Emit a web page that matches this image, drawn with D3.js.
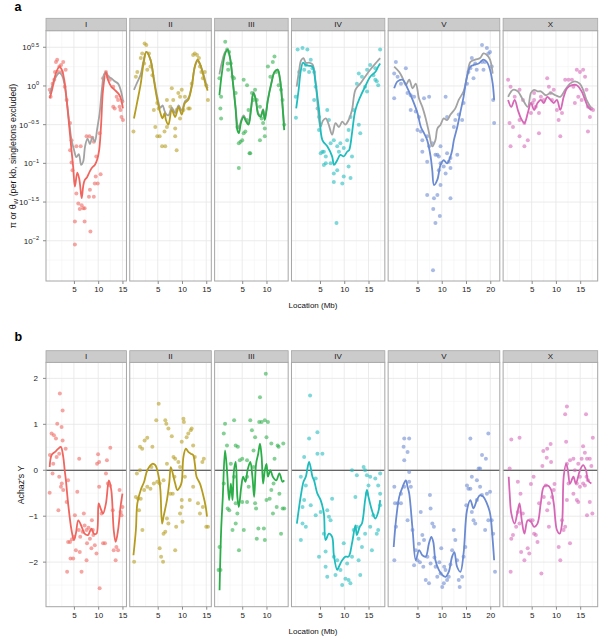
<!DOCTYPE html>
<html><head><meta charset="utf-8">
<script src="https://cdn.jsdelivr.net/npm/d3@7"></script>
<style>body{margin:0;background:#fff} svg{display:block;font-family:"Liberation Sans",Arial,Helvetica,sans-serif}</style>
</head><body><svg id="chart" width="603" height="639"></svg>
<script>
// ---------------- DATA ----------------
const chromosomes = ["I","II","III","IV","V","X"];
const chromLengthMb = [15.07,15.28,13.78,17.49,20.92,17.72];
const colors = ["#F0665F","#B59C1E","#2BAE48","#1FBCBE","#6A8AD2","#D666B6"];
const xTicks = [5,10,15,20];
const xMinorTicks = [0,2.5,7.5,12.5,17.5];
// panel a: log10 of pi / theta_W (per kb)
const aLog10Ticks = [-2,-1.5,-1,-0.5,0,0.5];
const aLog10TickLabels = ["\u22122","\u22121.5","\u22121","\u22120.5","0","0.5"];
const aLog10Minor = [-2.25,-1.75,-1.25,-0.75,-0.25,0.25];
// panel b: Achaz's Y
const bTicks = [-2,-1,0,1,2];
const bTickLabels = ["\u22122","\u22121","0","1","2"];
const bMinor = [-2.5,-1.5,-0.5,0.5,1.5];

// --- a: points (Mb, log10 pi)
const aPts_I = [[0.0,-0.05],[0.2,-0.14],[0.6,0.03],[0.95,0.08],[1.3,0.31],[1.55,0.34],[2.0,0.25],[2.35,0.27],[2.8,0.31],[1.8,0.18],[1.1,0.18],[2.5,0.18],[3.3,0.21],[3.1,-0.01],[3.5,-0.18],[4.2,-0.48],[4.5,-0.7],[5.5,-0.78],[6.4,-0.78],[7.6,-0.65],[8.2,-0.65],[8.8,-0.67],[9.1,-0.72],[9.6,-0.91],[10.3,-0.61],[11.0,0.1],[11.6,0.18],[12.0,0.12],[12.4,0.08],[13.1,-0.01],[13.8,-0.14],[14.1,-0.18],[14.4,-0.27],[14.8,-0.4],[14.6,-0.31],[15.1,-0.44],[13.4,-0.29],[13.1,-0.27],[15.0,-0.2],[4.7,-1.09],[5.5,-1.39],[5.9,-1.52],[6.2,-1.59],[6.6,-1.54],[6.9,-1.58],[7.2,-1.58],[5.2,-1.75],[5.2,-2.05],[7.2,-1.75],[8.4,-1.88],[8.3,-1.34],[8.1,-1.43],[9.1,-1.43],[9.3,-1.26],[9.9,-1.26],[9.5,-1.17],[10.5,-1.14],[4.2,-0.83],[4.5,-0.99]];
const aPts_II = [[0.0,-0.59],[0.5,0.12],[0.8,0.18],[1.5,0.36],[1.8,0.42],[2.3,0.55],[2.65,0.53],[2.2,0.29],[3.2,0.42],[3.5,0.25],[3.9,0.14],[2.85,0.21],[4.9,-0.22],[5.2,-0.29],[4.5,-0.53],[4.9,-0.65],[5.4,-0.65],[5.9,-0.78],[6.4,-0.59],[6.9,-0.53],[7.6,-0.27],[7.9,-0.03],[8.2,-0.18],[8.6,-0.55],[8.6,-0.65],[8.9,-0.31],[9.25,-0.09],[9.6,-0.14],[9.95,-0.05],[10.3,-0.31],[10.6,-0.14],[11.3,-0.29],[11.6,-0.29],[12.0,0.03],[12.3,0.4],[12.65,0.42],[13.1,0.4],[13.5,0.36],[13.7,0.25],[14.0,0.18],[14.3,0.1],[14.7,0.18],[15.0,0.01],[15.35,-0.18],[9.6,-0.42],[4.2,-0.31],[6.9,-0.18],[8.9,-0.83],[6.55,-0.78]];
const aPts_III = [[0.3,0.1],[0.5,-0.29],[0.65,-0.42],[1.5,0.57],[1.9,0.47],[2.3,0.44],[2.1,0.21],[2.65,0.29],[3.0,0.12],[2.0,0.29],[4.0,-0.53],[4.3,-0.74],[4.65,-0.72],[5.0,-0.7],[5.3,-0.61],[5.65,-0.59],[6.0,-0.44],[6.3,-0.31],[5.3,0.08],[6.0,0.01],[6.65,-0.87],[7.0,-0.09],[7.65,-0.05],[8.0,-0.18],[8.65,-0.27],[9.0,-0.42],[9.3,-0.48],[9.65,-0.55],[9.65,-0.65],[8.65,-0.7],[10.3,0.25],[10.8,0.12],[11.3,0.31],[11.65,0.38],[12.0,0.18],[12.5,0.01],[13.0,-0.05],[13.3,-0.18],[13.65,-0.5],[3.3,0.1],[3.65,-0.09],[7.3,-0.18],[4.3,-1.06],[6.5,-0.87],[0.65,-0.14]];
const aPts_IV = [[0.0,-0.14],[0.05,-0.41],[0.4,0.47],[0.7,0.18],[1.4,0.49],[1.75,0.21],[2.4,0.47],[2.1,0.27],[3.1,0.34],[3.45,0.23],[3.8,0.18],[2.75,0.18],[4.1,-0.01],[3.8,-0.18],[4.5,-0.29],[4.8,-0.4],[4.8,-0.57],[5.15,-0.87],[5.8,-0.85],[6.5,-0.31],[6.85,-0.44],[7.2,-0.74],[7.85,-0.7],[8.55,-0.78],[9.2,-0.74],[9.9,-0.8],[8.9,-0.85],[10.6,-0.7],[10.9,-0.57],[11.3,-0.4],[11.9,-0.31],[12.6,0.03],[13.0,0.16],[13.65,0.12],[14.3,-0.01],[14.7,-0.07],[14.7,0.21],[15.35,0.27],[16.0,0.14],[16.4,0.08],[16.7,0.06],[17.0,0.01],[16.4,0.23],[17.4,0.47],[13.0,-0.5],[13.3,-0.61],[5.5,-0.85],[6.2,-0.91],[5.8,-1.02],[7.2,-1.0],[7.85,-1.13],[8.55,-1.09],[7.85,-1.24],[9.6,-1.26],[9.9,-1.17],[10.9,-1.04],[11.3,-1.19],[11.6,-0.91],[8.4,-1.77],[6.2,-1.0]];
const aPts_V = [[0.55,0.31],[0.2,0.16],[0.2,-0.16],[0.9,0.12],[1.6,0.03],[2.6,0.23],[2.95,-0.09],[3.6,-0.12],[4.3,-0.14],[3.6,-0.31],[4.65,-0.33],[5.3,-0.4],[6.35,-0.16],[7.4,-0.14],[5.0,-0.57],[5.7,-0.59],[6.0,-0.7],[7.0,-0.65],[7.4,-0.78],[8.05,-0.74],[9.1,-0.89],[9.75,-0.78],[11.1,-0.4],[12.5,-0.53],[12.8,-0.44],[13.5,-0.37],[14.2,-0.44],[14.5,-0.22],[15.2,0.03],[15.5,0.18],[16.2,0.36],[16.9,0.29],[17.2,0.21],[18.3,0.31],[18.6,0.21],[18.9,0.31],[18.3,0.53],[19.3,0.49],[19.6,0.42],[19.95,0.44],[20.3,0.25],[20.6,-0.18],[20.8,-0.48],[15.9,0.23],[16.55,0.1],[10.8,-0.14],[6.0,-0.85],[7.0,-0.98],[8.7,-0.89],[9.4,-0.91],[11.1,-0.87],[11.8,-0.93],[13.2,-0.89],[9.75,-1.0],[10.4,-1.04],[10.8,-1.13],[11.8,-1.06],[11.45,-0.98],[9.4,-1.09],[9.75,-1.28],[7.0,-1.41],[9.1,-1.41],[8.4,-1.45],[11.8,-1.45],[8.25,-1.59],[9.6,-1.68],[8.7,-1.77],[8.2,-2.38]];
const aPts_X = [[0.15,0.08],[0.65,-0.01],[0.45,-0.48],[1.15,-0.53],[0.65,-0.78],[1.5,-0.14],[2.5,-0.44],[2.5,-0.65],[3.5,-0.78],[4.2,-0.7],[3.5,-0.48],[4.85,-0.35],[5.2,-0.22],[5.5,-0.18],[5.85,-0.27],[6.5,-0.61],[6.9,-0.14],[7.5,-0.18],[8.2,0.1],[8.55,-0.01],[8.9,-0.09],[9.2,-0.18],[9.55,-0.05],[10.2,-0.31],[10.55,-0.44],[10.9,-0.65],[11.25,-0.35],[11.9,0.08],[12.6,0.08],[13.3,0.08],[13.6,-0.01],[14.3,0.21],[14.95,0.18],[15.6,0.21],[16.0,0.12],[14.6,-0.14],[13.9,-0.22],[15.3,-0.18],[16.3,-0.05],[16.6,-0.27],[17.0,-0.4],[17.3,-0.29],[17.65,-0.31],[16.6,-0.59],[6.5,-0.35],[2.5,-0.05],[3.2,-0.18],[5.5,-0.09]];

// --- a: smoothed pi (coloured) and theta_W (grey), log10 scale
const aPi_I = [[0,-0.16],[0.5,-0.05],[1.0,0.1],[1.5,0.2],[2.0,0.25],[2.5,0.21],[3.0,0.08],[3.5,-0.18],[4.0,-0.5],[4.5,-0.83],[4.85,-1.05],[5.2,-1.3],[5.7,-1.12],[6.1,-1.2],[6.6,-1.45],[6.9,-1.3],[7.2,-1.22],[7.7,-1.18],[8.3,-1.1],[8.8,-1.05],[9.3,-1.02],[9.8,-0.95],[10.2,-0.83],[10.6,-0.5],[11.0,-0.05],[11.6,0.18],[12.0,0.08],[12.7,-0.01],[13.4,-0.05],[14.4,-0.12],[15.1,-0.29]];
const aTheta_I = [[0,-0.1],[0.5,0.0],[1.0,0.08],[1.5,0.14],[2.0,0.17],[2.5,0.14],[3.0,0.04],[3.5,-0.18],[4.0,-0.45],[4.5,-0.7],[5.0,-0.82],[5.5,-0.92],[6.0,-0.88],[6.5,-1.02],[6.9,-0.98],[7.3,-0.78],[7.8,-0.68],[8.3,-0.75],[8.8,-0.66],[9.3,-0.72],[9.8,-0.55],[10.3,-0.35],[10.8,-0.02],[11.2,0.15],[11.6,0.18],[12.1,0.12],[12.7,0.1],[13.4,0.06],[14.1,0.03],[14.8,-0.09],[15.1,-0.2]];
const aPi_II = [[0.1,-0.42],[0.8,-0.2],[1.5,0.03],[2.1,0.3],[2.65,0.44],[3.5,0.34],[4.2,0.08],[4.9,-0.18],[5.55,-0.35],[6.0,-0.42],[6.4,-0.35],[6.7,-0.44],[7.2,-0.5],[7.9,-0.31],[8.6,-0.4],[9.3,-0.27],[9.95,-0.37],[10.6,-0.22],[11.3,-0.18],[12.0,-0.01],[12.65,0.25],[13.2,0.34],[13.7,0.29],[14.3,0.16],[15.0,-0.01],[15.3,-0.06]];
const aTheta_II = [[0.1,-0.05],[0.8,0.05],[1.5,0.15],[2.1,0.33],[2.65,0.44],[3.5,0.34],[4.2,0.1],[4.9,-0.14],[5.55,-0.28],[6.0,-0.25],[6.4,-0.32],[6.7,-0.36],[7.2,-0.38],[7.9,-0.28],[8.6,-0.35],[9.3,-0.25],[9.95,-0.32],[10.6,-0.2],[11.3,-0.16],[12.0,0.0],[12.65,0.25],[13.2,0.32],[13.7,0.28],[14.3,0.18],[15.0,0.02],[15.3,-0.03]];
const aPi_III = [[0.3,-0.12],[0.8,0.16],[1.5,0.42],[2.0,0.47],[2.5,0.36],[3.1,0.03],[3.65,-0.31],[4.0,-0.57],[4.3,-0.61],[4.8,-0.46],[5.3,-0.4],[5.8,-0.46],[6.3,-0.5],[6.8,-0.31],[7.3,-0.09],[7.8,-0.18],[8.3,-0.37],[8.8,-0.4],[9.3,-0.31],[9.65,-0.44],[10.3,-0.18],[11.0,0.03],[11.65,0.18],[12.3,0.21],[12.8,0.08],[13.2,-0.18],[13.65,-0.57]];
const aTheta_III = [[0.3,0.15],[0.8,0.3],[1.5,0.44],[2.0,0.46],[2.5,0.36],[3.1,0.04],[3.65,-0.28],[4.0,-0.5],[4.3,-0.55],[4.8,-0.44],[5.3,-0.38],[5.8,-0.44],[6.3,-0.48],[6.8,-0.3],[7.3,-0.08],[7.8,-0.17],[8.3,-0.35],[8.8,-0.38],[9.3,-0.3],[9.65,-0.42],[10.3,-0.17],[11.0,0.04],[11.65,0.18],[12.3,0.21],[12.8,0.08],[13.2,-0.16],[13.65,-0.52]];
const aPi_IV = [[0.1,-0.29],[0.6,-0.05],[1.05,0.2],[1.5,0.3],[2.1,0.27],[2.8,0.26],[3.45,0.25],[4.1,0.03],[4.8,-0.31],[5.5,-0.7],[6.5,-0.78],[7.5,-0.91],[7.9,-1.02],[8.55,-0.96],[9.2,-0.89],[9.9,-0.91],[10.6,-0.85],[11.0,-0.83],[11.3,-0.75],[11.6,-0.61],[12.3,-0.31],[13.3,-0.14],[14.3,-0.01],[15.35,0.12],[16.4,0.18],[17.0,0.25],[17.4,0.29]];
const aTheta_IV = [[0.2,-0.01],[0.7,0.2],[1.1,0.33],[1.6,0.36],[2.1,0.3],[2.8,0.3],[3.45,0.28],[4.1,0.05],[4.6,-0.3],[5.1,-0.53],[5.6,-0.45],[6.2,-0.42],[6.8,-0.5],[7.5,-0.63],[8.2,-0.48],[8.9,-0.53],[9.6,-0.46],[10.2,-0.5],[10.9,-0.44],[11.6,-0.31],[12.3,-0.05],[13.3,0.03],[14.3,0.12],[15.35,0.21],[16.7,0.31],[17.4,0.36]];
const aPi_V = [[0.2,-0.03],[0.9,0.06],[1.95,0.08],[2.95,-0.03],[4.0,-0.18],[5.0,-0.35],[5.7,-0.53],[6.35,-0.61],[7.0,-0.7],[7.7,-0.91],[8.05,-1.09],[8.4,-1.28],[9.1,-1.21],[9.75,-1.02],[10.4,-0.96],[11.1,-1.0],[11.8,-0.91],[12.15,-0.83],[12.5,-0.7],[13.2,-0.53],[13.8,-0.35],[14.5,-0.14],[15.2,0.12],[15.9,0.25],[16.55,0.27],[17.6,0.29],[18.6,0.34],[19.3,0.31],[19.95,0.21],[20.5,0.03],[20.8,-0.18]];
const aTheta_V = [[0.2,0.25],[1.25,0.18],[1.95,0.1],[2.6,0.01],[3.3,0.08],[4.0,-0.03],[4.65,0.03],[5.3,-0.16],[6.0,-0.27],[6.7,-0.42],[7.4,-0.61],[8.05,-0.78],[8.7,-0.7],[9.1,-0.55],[9.75,-0.5],[10.4,-0.42],[11.1,-0.44],[11.8,-0.37],[12.8,-0.29],[13.5,-0.18],[14.5,-0.07],[15.2,0.12],[15.9,0.31],[16.9,0.34],[17.9,0.36],[18.6,0.42],[19.3,0.4],[19.95,0.34],[20.5,0.16]];
const aPi_X = [[0.15,-0.18],[0.8,-0.27],[1.5,-0.18],[2.15,-0.31],[2.8,-0.42],[3.5,-0.48],[4.2,-0.35],[4.85,-0.22],[5.5,-0.31],[6.2,-0.22],[6.9,-0.18],[7.5,-0.22],[8.2,-0.14],[8.9,-0.18],[9.55,-0.22],[10.2,-0.18],[10.9,-0.31],[11.6,-0.14],[12.3,-0.03],[13.3,0.01],[14.3,0.01],[15.3,-0.07],[16.0,-0.18],[16.6,-0.27],[17.3,-0.31]];
const aTheta_X = [[0.15,-0.14],[1.15,-0.05],[2.15,-0.07],[3.2,-0.18],[4.2,-0.27],[4.85,-0.09],[5.5,-0.05],[6.2,-0.07],[6.9,-0.07],[7.9,-0.12],[8.9,-0.09],[9.9,-0.12],[10.9,-0.14],[11.9,-0.05],[12.9,0.03],[13.9,0.06],[14.9,0.03],[15.6,-0.05],[16.3,-0.18],[17.3,-0.29]];

// --- b: points (Mb, Achaz's Y)
const bPts_I = [[0.06,0.33],[0.4,0.8],[0.88,0.76],[1.3,0.69],[1.56,1.01],[2.1,1.67],[2.67,1.3],[2.46,0.94],[2.67,0.65],[0.74,0.14],[1.44,0.29],[1.97,0.36],[0.6,-0.07],[1.97,-0.14],[3.3,0.47],[3.8,-0.22],[6.08,0.25],[9.98,0.35],[10.2,0.18],[9.77,0.14],[11.6,-0.07],[11.8,0.22],[12.5,0.49],[2.32,-0.36],[10.2,-0.36],[0.0,-0.49],[1.8,-0.87],[2.5,-0.29],[2.8,-0.43],[3.5,-0.69],[3.8,-1.56],[4.2,-1.56],[3.6,-2.21],[4.3,-1.92],[4.85,-1.92],[5.4,-1.74],[5.7,-0.47],[5.2,-0.98],[6.2,-1.78],[6.57,-2.21],[7.04,-0.94],[6.8,-1.34],[7.6,-1.3],[7.7,-1.59],[8.3,-1.49],[8.7,-1.09],[9.0,-1.41],[9.3,-1.63],[9.65,-1.81],[7.6,-1.96],[8.6,-1.7],[10.3,-2.57],[10.7,-0.94],[11.0,-1.59],[11.4,-1.59],[12.0,-0.29],[12.4,-0.33],[13.0,-0.87],[13.2,-1.74],[13.6,-1.96],[14.1,-1.74],[13.75,-1.67],[14.6,-0.91],[15.0,-0.8],[14.8,-0.98],[14.4,-0.43],[5.0,-1.45],[6.0,-1.3],[6.3,-1.45],[7.2,-1.2],[8.0,-1.25],[8.9,-1.3],[4.6,-1.5]];
const bPts_II = [[1.8,0.47],[2.3,0.65],[2.85,0.71],[3.9,0.51],[4.7,1.09],[5.2,1.45],[6.56,1.09],[6.77,1.01],[7.2,0.91],[7.9,0.74],[8.25,0.29],[8.6,0.25],[9.95,0.62],[10.3,1.12],[10.4,1.05],[10.96,0.72],[11.3,0.8],[11.8,0.87],[12.0,0.91],[12.3,0.54],[12.65,0.29],[14.5,0.25],[14.2,0.18],[3.7,0.07],[1.35,0.0],[0.7,-0.07],[6.9,0.14],[9.26,0.18],[9.6,0.07],[10.6,-0.14],[8.45,-0.14],[6.2,-0.22],[5.4,-0.29],[1.35,0.51],[0.14,-1.99],[0.5,-0.58],[0.95,-0.62],[1.5,-0.62],[1.84,-1.3],[2.2,-0.43],[1.15,-0.87],[2.85,-0.36],[3.5,-0.4],[4.2,-0.29],[4.9,-0.25],[5.4,-1.7],[5.7,-1.88],[6.1,-1.99],[6.2,-1.38],[6.56,-1.34],[6.9,-1.05],[7.2,-1.16],[7.6,-0.51],[8.1,-0.51],[8.6,-1.74],[8.8,-1.23],[9.6,-0.94],[9.95,-0.8],[10.1,-1.12],[9.95,-0.65],[11.6,-0.65],[13.3,-0.72],[13.7,-0.94],[14.3,-0.8],[15.0,-1.23],[15.35,-1.23],[12.3,-0.36]];
const bPts_III = [[1.2,0.8],[1.46,1.01],[1.86,0.54],[3.33,1.09],[3.66,0.54],[4.1,0.51],[5.0,0.25],[6.66,1.09],[7.0,0.87],[7.66,0.72],[8.5,1.05],[8.66,1.59],[9.0,1.05],[9.66,1.09],[9.86,2.1],[10.3,1.05],[10.0,0.72],[7.33,0.43],[6.0,0.22],[6.0,-0.14],[12.3,0.54],[12.5,0.51],[13.46,0.58],[11.66,0.25],[11.0,0.58],[4.5,0.22],[2.66,0.14],[3.33,-0.14],[7.33,0.07],[0.13,-2.17],[0.53,-2.17],[0.33,-1.67],[1.2,-0.29],[2.0,-0.83],[2.33,-0.87],[3.0,-1.3],[3.66,-1.16],[4.0,-0.94],[4.33,-1.74],[3.66,-0.72],[5.0,-0.69],[5.33,-1.3],[6.0,-0.69],[6.33,-0.36],[7.66,-0.72],[7.86,-0.83],[8.0,-1.49],[8.33,-1.27],[9.46,-1.27],[9.66,-1.52],[10.0,-0.65],[10.66,-0.62],[11.0,-0.43],[11.33,-0.94],[12.1,-0.8],[13.0,-1.38],[13.33,-0.83],[13.66,-0.83],[11.46,-0.29],[12.66,-0.51]];
const bPts_IV = [[2.96,1.63],[2.76,0.69],[4.47,0.83],[4.47,0.36],[5.5,0.36],[1.74,0.29],[4.12,-0.18],[11.6,0.0],[12.6,-0.11],[14.0,0.07],[14.3,0.0],[14.67,-0.11],[15.35,-0.14],[17.4,-0.07],[16.4,-0.18],[2.08,-0.33],[1.06,-0.14],[1.4,-0.8],[1.74,-0.65],[2.08,-1.23],[1.4,-1.16],[1.06,-1.52],[3.1,-0.76],[4.12,-0.98],[5.14,-0.91],[4.8,-1.88],[5.8,-1.38],[6.16,-1.77],[6.5,-0.87],[6.84,-1.01],[7.18,-1.09],[7.5,-0.62],[6.16,-2.1],[6.5,-2.32],[7.86,-1.88],[8.2,-2.28],[8.55,-1.96],[9.22,-2.17],[9.57,-2.5],[9.9,-1.59],[10.24,-2.36],[10.6,-2.03],[10.9,-2.39],[11.27,-2.46],[11.6,-1.88],[11.94,-1.3],[12.6,-1.23],[12.96,-1.96],[13.3,-2.28],[13.65,-1.67],[14.3,-1.38],[14.67,-0.51],[15.0,-0.33],[15.35,-1.23],[15.7,-1.74],[16.0,-0.98],[16.7,-1.38],[17.0,-1.3],[17.4,-0.76],[17.4,-0.51],[17.0,-0.33],[12.3,-0.58],[12.96,-1.49]];
const bPts_V = [[2.27,0.69],[3.29,0.69],[2.14,0.51],[2.96,0.4],[2.27,0.22],[3.29,-0.04],[3.63,-0.36],[15.9,0.69],[19.6,0.8],[18.3,0.33],[19.1,0.25],[17.6,0.04],[17.9,0.04],[16.2,-0.14],[17.24,-0.22],[15.2,-0.33],[15.9,-0.4],[17.9,-0.36],[0.23,-0.36],[0.37,-0.72],[0.57,-1.23],[0.23,-1.96],[0.92,-0.72],[1.6,-0.72],[1.6,-0.51],[2.27,-0.36],[2.96,-1.09],[3.29,-0.25],[3.98,-1.3],[4.65,-1.74],[5.0,-1.96],[4.3,-2.07],[5.67,-0.91],[6.0,-1.41],[6.35,-1.52],[7.04,-1.88],[7.37,-2.46],[6.7,-2.39],[7.57,-0.54],[8.06,-1.16],[8.39,-1.23],[7.7,-2.03],[8.73,-2.1],[9.08,-2.32],[9.76,-2.25],[10.1,-2.54],[10.43,-2.46],[10.78,-2.17],[11.1,-2.39],[11.45,-2.32],[12.14,-1.74],[12.47,-1.3],[12.8,-1.52],[13.16,-1.96],[13.5,-2.39],[13.7,-2.54],[14.2,-2.32],[14.5,-1.88],[14.86,-1.67],[15.06,-0.76],[15.5,-0.4],[16.2,-0.91],[16.55,-1.09],[16.9,-1.16],[17.24,-0.65],[18.27,-0.54],[18.94,-1.3],[19.3,-0.51],[19.6,-1.09],[19.96,-0.47],[20.3,-1.09],[20.6,-1.38],[20.98,-2.21],[7.7,-0.83],[5.5,-2.0],[6.2,-2.1],[9.5,-2.0],[10.5,-2.1],[11.8,-2.05],[8.5,-1.9],[5.3,-1.6],[9.9,-1.7]];
const bPts_X = [[0.8,0.67],[2.5,0.71],[0.46,0.04],[2.15,-0.25],[5.4,-0.14],[4.85,-0.3],[7.4,0.42],[8.2,0.47],[8.9,0.57],[8.1,0.27],[9.0,0.18],[7.2,0.09],[9.7,-0.3],[7.9,-0.33],[12.26,1.39],[11.9,1.22],[16.2,1.22],[12.1,0.62],[12.9,0.22],[13.6,0.25],[14.6,0.14],[15.3,0.25],[15.6,0.52],[15.96,0.38],[16.4,0.25],[16.97,0.25],[17.6,0.71],[17.3,0.09],[12.26,0.14],[13.9,0.0],[14.95,-0.14],[16.3,-0.14],[14.3,-0.29],[15.6,-0.29],[12.6,-0.29],[0.8,-1.49],[1.15,-1.41],[0.67,-2.21],[1.8,-1.23],[2.15,-0.91],[2.48,-1.16],[2.7,-0.51],[2.83,-1.78],[3.17,-0.94],[3.5,-1.96],[4.18,-1.7],[4.5,-1.81],[4.7,-1.09],[5.2,-1.09],[5.5,-1.38],[5.86,-1.41],[6.2,-1.56],[6.53,-0.72],[7.0,-2.25],[7.5,-0.58],[8.2,-0.87],[8.55,-1.23],[9.2,-0.58],[9.55,-0.43],[10.57,-1.67],[10.9,-1.96],[11.25,-1.09],[11.57,-1.3],[11.9,-1.23],[12.26,-0.65],[12.9,-1.59],[13.6,-0.51],[14.3,-0.65],[14.6,-0.69],[14.95,-0.36],[15.96,-0.33],[16.4,-0.98],[16.97,-0.69],[17.5,-0.94],[16.6,-0.22],[8.55,-0.72]];

// --- b: smoothed Achaz's Y
const bLine_I = [[0.0,0.07],[0.4,0.33],[1.1,0.4],[1.8,0.47],[2.3,0.51],[2.8,0.29],[3.1,0.0],[3.35,-0.22],[3.8,-0.72],[4.5,-1.3],[5.0,-1.52],[5.4,-1.38],[5.9,-1.09],[6.6,-1.23],[7.2,-1.38],[7.9,-1.41],[8.6,-1.27],[9.1,-1.38],[9.65,-1.38],[10.1,-0.72],[10.5,-0.83],[11.0,-0.94],[11.6,-0.72],[12.2,-0.22],[12.7,-0.43],[13.2,-1.3],[13.6,-1.56],[14.1,-1.3],[14.6,-0.8],[15.0,-0.51]];
const bLine_II = [[0.0,-1.85],[0.5,-1.3],[0.8,-0.72],[1.5,-0.43],[2.2,-0.25],[2.85,0.0],[3.9,0.14],[4.5,0.11],[5.2,-0.14],[5.55,-0.43],[5.9,-1.16],[6.2,-1.01],[6.9,-0.65],[7.4,-0.25],[7.7,0.07],[8.25,-0.14],[8.6,-0.29],[9.06,-0.43],[9.6,-0.36],[9.95,-0.25],[10.3,0.29],[10.8,0.47],[11.3,0.4],[11.8,0.36],[12.3,0.33],[12.65,0.14],[13.0,-0.14],[13.7,-0.29],[14.3,-0.51],[14.9,-0.8],[15.15,-1.01]];
const bLine_III = [[0.33,-2.61],[0.66,-1.3],[1.0,-0.58],[1.46,0.43],[1.86,0.0],[2.3,-0.65],[2.66,-0.29],[3.0,-0.65],[3.3,0.0],[3.66,0.18],[4.0,-0.58],[4.3,-0.8],[4.8,-0.36],[5.2,-0.14],[5.66,-0.25],[6.1,0.0],[6.66,0.18],[7.1,-0.14],[7.46,-0.58],[7.86,0.14],[8.3,0.36],[8.66,0.58],[9.0,0.29],[9.3,-0.29],[9.66,0.0],[10.0,0.14],[10.3,-0.14],[10.8,0.0],[11.3,-0.14],[12.0,-0.22],[12.66,-0.07],[13.3,-0.25],[13.66,-0.22]];
const bLine_IV = [[0.24,-1.16],[0.7,-0.8],[1.06,-0.55],[1.6,-0.25],[2.08,-0.14],[2.76,0.18],[3.45,-0.14],[3.78,-0.22],[4.47,-0.51],[5.14,-0.65],[5.8,-0.94],[6.16,-1.52],[6.84,-1.38],[7.5,-1.45],[7.86,-1.85],[8.55,-2.17],[8.9,-2.1],[9.57,-1.96],[10.24,-1.88],[10.9,-1.88],[11.6,-1.59],[12.3,-1.2],[12.6,-1.41],[13.2,-1.23],[13.65,-1.16],[14.3,-0.65],[14.67,-0.43],[15.0,-0.58],[15.7,-0.87],[16.4,-1.05],[17.0,-0.91],[17.4,-0.65]];
const bLine_V = [[0.1,-1.67],[0.57,-1.09],[1.24,-0.58],[1.94,-0.36],[2.6,-0.22],[2.96,-0.36],[3.3,-0.51],[4.0,-1.3],[4.65,-1.96],[5.33,-1.74],[6.0,-1.85],[6.7,-1.88],[7.37,-1.59],[7.86,-1.45],[8.26,-1.56],[8.7,-1.96],[9.4,-2.17],[10.1,-2.28],[10.8,-2.32],[11.45,-2.21],[12.14,-1.88],[12.6,-1.78],[13.16,-2.1],[13.84,-2.21],[14.5,-1.81],[15.2,-0.87],[15.9,-0.65],[16.55,-0.83],[17.24,-0.65],[17.9,-0.54],[18.6,-0.58],[19.3,-0.72],[19.96,-0.94],[20.5,-1.52],[20.8,-1.96]];
const bLine_X = [[0.27,-0.14],[0.47,-0.51],[0.8,-0.94],[1.48,-1.16],[2.15,-0.87],[2.5,-0.72],[2.96,-1.09],[3.5,-1.38],[4.18,-1.09],[4.85,-1.12],[5.5,-1.23],[6.2,-1.16],[6.87,-0.72],[7.5,-0.36],[8.2,-0.33],[8.9,-0.4],[9.55,-0.72],[10.2,-1.3],[10.77,-1.38],[11.25,-1.16],[11.6,-0.14],[12.1,0.14],[12.46,0.0],[12.9,-0.29],[13.6,-0.14],[14.1,-0.29],[14.95,0.0],[15.6,0.11],[16.2,0.0],[16.6,-0.22],[17.3,-0.29]];

// ---------------- DRAWING ----------------
const svg = d3.select("#chart");
const defs = svg.append("defs");
const FONT = 8;
const plotLeft = 46, plotRight = 597.7, panelGap = 3.3;
const spanTotal = d3.sum(chromLengthMb, l => l * 1.1);
const pxPerMb = (plotRight - plotLeft - panelGap * (chromLengthMb.length - 1)) / spanTotal;
let cursor = plotLeft;
const xScales = chromLengthMb.map(l => {
  const w = l * 1.1 * pxPerMb;
  const s = d3.scaleLinear().domain([-0.05 * l, 1.05 * l]).range([cursor, cursor + w]);
  cursor += w + panelGap;
  return s;
});

const rows = [
  { id: "a", stripTop: 18.3, top: 30.7, bottom: 281, labelEnd: plotLeft - 7,
    y: d3.scaleLinear().domain([-2.52, 0.714]).range([281, 30.7]),
    ticks: aLog10Ticks, tickLabels: aLog10TickLabels, minor: aLog10Minor, log: true,
    points: [aPts_I, aPts_II, aPts_III, aPts_IV, aPts_V, aPts_X],
    lines: [aPi_I, aPi_II, aPi_III, aPi_IV, aPi_V, aPi_X],
    grey: [aTheta_I, aTheta_II, aTheta_III, aTheta_IV, aTheta_V, aTheta_X] },
  { id: "b", stripTop: 350.7, top: 362.3, bottom: 606.7, labelEnd: plotLeft - 8,
    y: d3.scaleLinear().domain([-2.97, 2.35]).range([606.7, 362.3]),
    ticks: bTicks, tickLabels: bTickLabels, minor: bMinor, log: false, hline: 0,
    points: [bPts_I, bPts_II, bPts_III, bPts_IV, bPts_V, bPts_X],
    lines: [bLine_I, bLine_II, bLine_III, bLine_IV, bLine_V, bLine_X] }
];

rows.forEach(row => {
  const y = row.y;
  const g = svg.append("g");
  chromosomes.forEach((chr, i) => {
    const x = xScales[i];
    const [x0, x1] = x.range();
    const [d0, d1] = x.domain();
    const pg = g.append("g");
    pg.append("rect").attr("x", x0).attr("y", row.top).attr("width", x1 - x0).attr("height", row.bottom - row.top).attr("fill", "#fff");
    // minor grid
    row.minor.forEach(v => pg.append("line").attr("x1", x0).attr("x2", x1).attr("y1", y(v)).attr("y2", y(v)).attr("stroke", "#f3f3f3").attr("stroke-width", 0.6));
    xMinorTicks.filter(v => v > d0 && v < d1).forEach(v => pg.append("line").attr("x1", x(v)).attr("x2", x(v)).attr("y1", row.top).attr("y2", row.bottom).attr("stroke", "#f3f3f3").attr("stroke-width", 0.6));
    // major grid
    row.ticks.forEach(v => pg.append("line").attr("x1", x0).attr("x2", x1).attr("y1", y(v)).attr("y2", y(v)).attr("stroke", "#e6e6e6").attr("stroke-width", 0.8));
    const xt = xTicks.filter(v => v > d0 && v < d1);
    xt.forEach(v => pg.append("line").attr("x1", x(v)).attr("x2", x(v)).attr("y1", row.top).attr("y2", row.bottom).attr("stroke", "#e6e6e6").attr("stroke-width", 0.8));

    const clipId = "clip-" + row.id + i;
    defs.append("clipPath").attr("id", clipId).append("rect").attr("x", x0).attr("y", row.top).attr("width", x1 - x0).attr("height", row.bottom - row.top);
    const dg = pg.append("g").attr("clip-path", `url(#${clipId})`);
    if (row.hline !== undefined) {
      dg.append("line").attr("x1", x0).attr("x2", x1).attr("y1", y(row.hline)).attr("y2", y(row.hline)).attr("stroke", "#3a3a3a").attr("stroke-width", 1.1);
    }
    dg.append("g").selectAll("circle").data(row.points[i]).join("circle")
      .attr("cx", d => x(d[0])).attr("cy", d => y(d[1])).attr("r", 2.0)
      .attr("fill", colors[i]).attr("fill-opacity", 0.58);
    const line = d3.line().x(d => x(d[0])).y(d => y(d[1])).curve(d3.curveCatmullRom.alpha(0.5));
    const sorted = arr => arr.slice().sort((a, b) => a[0] - b[0]);
    if (row.grey) {
      dg.append("path").attr("d", line(sorted(row.grey[i]))).attr("fill", "none").attr("stroke", "#a3a3a3").attr("stroke-width", 1.8).attr("stroke-linejoin", "round");
    }
    dg.append("path").attr("d", line(sorted(row.lines[i]))).attr("fill", "none").attr("stroke", colors[i]).attr("stroke-width", 1.8).attr("stroke-linejoin", "round");
    // border
    pg.append("rect").attr("x", x0).attr("y", row.top).attr("width", x1 - x0).attr("height", row.bottom - row.top).attr("fill", "none").attr("stroke", "#a6a6a6").attr("stroke-width", 1);
    // strip
    pg.append("rect").attr("x", x0).attr("y", row.stripTop).attr("width", x1 - x0).attr("height", row.top - row.stripTop).attr("fill", "#cbcbcb").attr("stroke", "#a6a6a6").attr("stroke-width", 0.8);
    pg.append("text").attr("x", (x0 + x1) / 2).attr("y", (row.stripTop + row.top) / 2 + 2.9).attr("text-anchor", "middle").attr("font-size", FONT).attr("fill", "#1a1a1a").text(chr);
    // x axis
    const axis = d3.axisBottom(x).tickValues(xt).tickSize(3).tickPadding(2.5).tickFormat(d3.format("d"));
    const ag = pg.append("g").attr("transform", `translate(0,${row.bottom})`).call(axis);
    ag.select(".domain").remove();
    ag.selectAll(".tick line").attr("stroke", "#8a8a8a");
    ag.selectAll(".tick text").attr("font-size", FONT).attr("fill", "#222").attr("font-family", null);
  });
  // y axis
  const yg = svg.append("g");
  row.ticks.forEach((v, k) => {
    yg.append("line").attr("x1", plotLeft - 3).attr("x2", plotLeft).attr("y1", y(v)).attr("y2", y(v)).attr("stroke", "#8a8a8a");
    const t = yg.append("text").attr("x", row.labelEnd).attr("y", y(v) + 2.9).attr("text-anchor", "end").attr("font-size", FONT).attr("fill", "#222");
    if (row.log) {
      t.append("tspan").text("10");
      t.append("tspan").attr("dy", -3.5).attr("font-size", 5.6).text(row.tickLabels[k]);
    } else {
      t.text(row.tickLabels[k]);
    }
  });
  // x title
  svg.append("text").attr("x", 313).attr("y", row.bottom + 27).attr("text-anchor", "middle").attr("font-size", FONT).attr("fill", "#111").text("Location (Mb)");
});

// y titles
const ta = svg.append("text").attr("transform", "translate(15.5,156) rotate(-90)").attr("text-anchor", "middle").attr("font-size", 8.8).attr("fill", "#111");
ta.append("tspan").text("\u03c0 or \u03b8");
ta.append("tspan").attr("dy", 2).attr("font-size", 6).text("W");
ta.append("tspan").attr("dy", -2).text(" (per kb, singletons excluded)");
svg.append("text").attr("transform", "translate(23.5,485) rotate(-90)").attr("text-anchor", "middle").attr("font-size", 8.8).attr("fill", "#111").text("Achaz's Y");

// panel letters
svg.append("text").attr("x", 14.5).attr("y", 11).attr("font-size", 12.5).attr("font-weight", "bold").attr("fill", "#000").text("a");
svg.append("text").attr("x", 14.5).attr("y", 341).attr("font-size", 12.5).attr("font-weight", "bold").attr("fill", "#000").text("b");
</script></body></html>
